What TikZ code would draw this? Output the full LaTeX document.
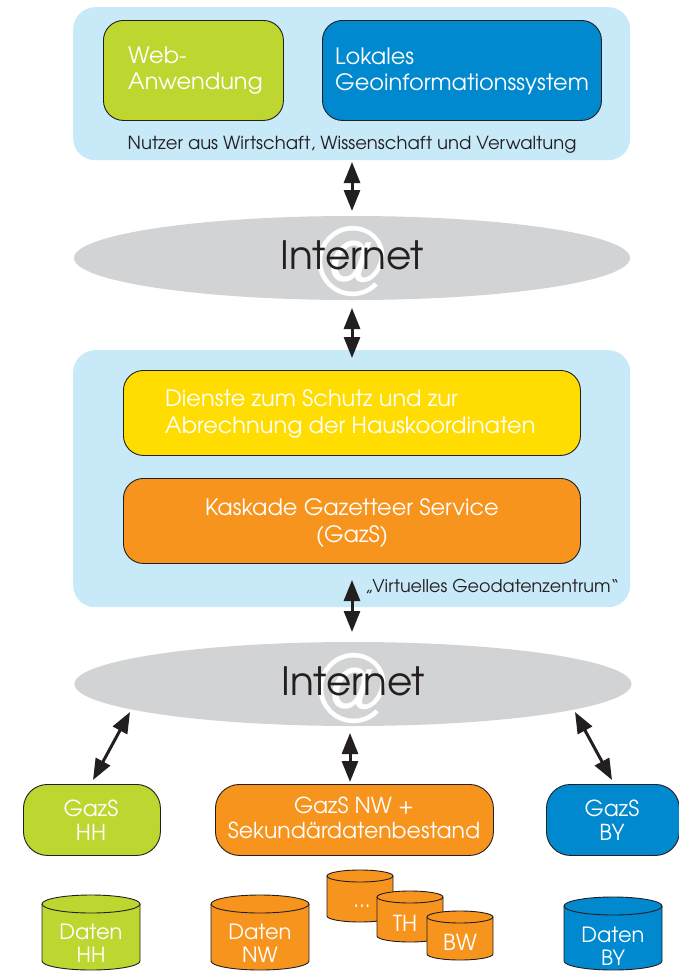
\documentclass[tikz,border=0pt]{standalone}
\usepackage{fontspec}
\setmainfont{texgyreadventor-regular.otf}
\usetikzlibrary{arrows.meta,shapes.geometric}
\definecolor{panel}{HTML}{C7E9F8}
\definecolor{lgreen}{HTML}{BED630}
\definecolor{dblue}{HTML}{0089CF}
\definecolor{dyellow}{HTML}{FFDD00}
\definecolor{dorange}{HTML}{F7941E}
\definecolor{netgrey}{HTML}{D1D3D4}
\definecolor{ink}{HTML}{231F20}
\newcommand{\fsz}[2]{\fontsize{#1}{#2}\selectfont}
\newcommand{\dbcyl}[7]{%
  \fill[#7] ({#2-#4},{-#3}) -- ({#2-#4},{-#6}) arc[start angle=180,end angle=360,x radius=#4,y radius=#5] -- ({#2+#4},{-#3}) -- cycle;
  \draw[cylline] ({#2-#4},{-#3}) -- ({#2-#4},{-#6}) arc[start angle=180,end angle=360,x radius=#4,y radius=#5] -- ({#2+#4},{-#3});
  \filldraw[fill=#7,cylline] (#2,{-#3}) ellipse[x radius=#4,y radius=#5];
  \coordinate (#1) at (#2,{-(#3+#6)/2});
}
\begin{document}
\begin{tikzpicture}[x=1pt,y=1pt,
  panelbox/.style={fill=panel,rounded corners=22pt},
  cbox/.style={draw=ink,line width=0.9pt,rounded corners=20pt},
  wtext/.style={text=white,inner sep=0pt,align=left},
  ctext/.style={text=white,inner sep=0pt,align=center},
  cylline/.style={draw=ink,line width=0.9pt},
  net/.style={ellipse,fill=netgrey,inner sep=0pt},
  dbl/.style={line width=3pt,draw=ink,{Triangle[width=16pt,length=21pt]}-{Triangle[width=16pt,length=21pt]}}
]
\useasboundingbox (0,0) rectangle (678,-972);

% top panel
\node[panelbox,minimum width=557pt,minimum height=153pt,anchor=north west] (toppanel) at (73,-7) {};
\node[cbox,fill=lgreen,minimum width=180pt,minimum height=100pt,anchor=north west] (web) at (103,-20) {};
\node[cbox,fill=dblue,minimum width=279pt,minimum height=100pt,anchor=north west] (gis) at (322,-20) {};
\node[wtext,anchor=west,font=\fsz{22.5}{26}] (webt) at (128,-71) {Web-\\Anwendung};
\node[wtext,anchor=west,font=\fsz{22.5}{26}] (gist) at (335,-71) {Lokales\\Geoinformationssystem};
\node[text=ink,inner sep=0pt,font=\fsz{18}{20}] (nutzer) at (352,-145) {Nutzer aus Wirtschaft, Wissenschaft und Verwaltung};

% internet 1
\node[net,minimum width=556pt,minimum height=84pt] (inet1) at (352,-258) {};
\node[text=white,inner sep=0pt,font=\fsz{92}{92}] (at1) at (351,-262) {@};
\node[text=ink,inner sep=0pt,font=\fsz{39}{39}] (inet1t) at (352,-255) {Internet};

% middle panel
\node[panelbox,minimum width=557pt,minimum height=257pt,anchor=north west] (midpanel) at (73,-350) {};
\node[cbox,fill=dyellow,minimum width=457pt,minimum height=85pt,anchor=north west] (dienste) at (123,-370) {};
\node[wtext,anchor=west,font=\fsz{22.5}{27}] (dienstet) at (165,-414) {Dienste zum Schutz und zur\\Abrechnung der Hauskoordinaten};
\node[cbox,fill=dorange,minimum width=457pt,minimum height=85pt,anchor=north west] (kaskade) at (123,-478) {};
\node[ctext,font=\fsz{22.5}{27}] (kaskadet) at (352,-523) {Kaskade Gazetteer Service\\(GazS)};
\node[text=ink,inner sep=0pt,font=\fsz{17.6}{20},anchor=west] (virt) at (365,-586) {\char"201E Virtuelles Geodatenzentrum\char"201C};

% internet 2
\node[net,minimum width=557pt,minimum height=84pt] (inet2) at (353,-684) {};
\node[text=white,inner sep=0pt,font=\fsz{92}{92}] (at2) at (352,-688) {@};
\node[text=ink,inner sep=0pt,font=\fsz{39}{39}] (inet2t) at (353,-681) {Internet};

% bottom boxes
\node[cbox,fill=lgreen,minimum width=137pt,minimum height=71pt,anchor=north west,rounded corners=24pt] (hh) at (23,-784) {};
\node[ctext,font=\fsz{22}{24}] (hht) at (91,-820) {GazS\\HH};
\node[cbox,fill=dorange,minimum width=278pt,minimum height=71pt,anchor=north west,rounded corners=24pt] (nw) at (215,-784) {};
\node[ctext,font=\fsz{22}{25}] (nwt) at (354,-818) {GazS NW +\\Sekund\"ardatenbestand};
\node[cbox,fill=dblue,minimum width=133pt,minimum height=71pt,anchor=north west,rounded corners=24pt] (by) at (546,-784) {};
\node[ctext,font=\fsz{22}{24}] (byt) at (612,-820) {GazS\\BY};

% cylinders
\dbcyl{cylhh}{91}{904}{49}{9}{961}{lgreen}
\node[ctext,font=\fsz{21}{23.5}] (cylhht) at (91,-943) {Daten\\HH};
\dbcyl{cylnw}{260}{904}{49}{9}{961}{dorange}
\node[ctext,font=\fsz{21}{23.5}] (cylnwt) at (260,-943) {Daten\\NW};
\dbcyl{cyldots}{360}{876}{33}{6}{916}{dorange}
\node[ctext,font=\fsz{21}{21}] (cyldotst) at (362,-906) {...};
\dbcyl{cylth}{410}{897}{33}{6}{936}{dorange}
\node[ctext,font=\fsz{22}{22}] (cyltht) at (405,-923) {TH};
\dbcyl{cylbw}{460}{917}{33}{6}{954}{dorange}
\node[ctext,font=\fsz{22}{22}] (cylbwt) at (460,-942) {BW};
\dbcyl{cylby}{613}{906}{49}{9}{961}{dblue}
\node[ctext,font=\fsz{21}{23.5}] (cylbyt) at (613,-946) {Daten\\BY};

% arrows
\coordinate (a1s) at (352,-162); \coordinate (a1e) at (352,-211);
\draw[dbl] (a1s) -- (a1e);
\coordinate (a2s) at (352,-308); \coordinate (a2e) at (352,-358);
\draw[dbl] (a2s) -- (a2e);
\coordinate (a3s) at (352,-580); \coordinate (a3e) at (352,-632);
\draw[dbl] (a3s) -- (a3e);
\coordinate (a4s) at (130,-712); \coordinate (a4e) at (93,-780);
\draw[dbl] (a4s) -- (a4e);
\coordinate (a5s) at (350,-733); \coordinate (a5e) at (350,-782);
\draw[dbl] (a5s) -- (a5e);
\coordinate (a6s) at (575,-712); \coordinate (a6e) at (612,-780);
\draw[dbl] (a6s) -- (a6e);
\end{tikzpicture}
\end{document}
